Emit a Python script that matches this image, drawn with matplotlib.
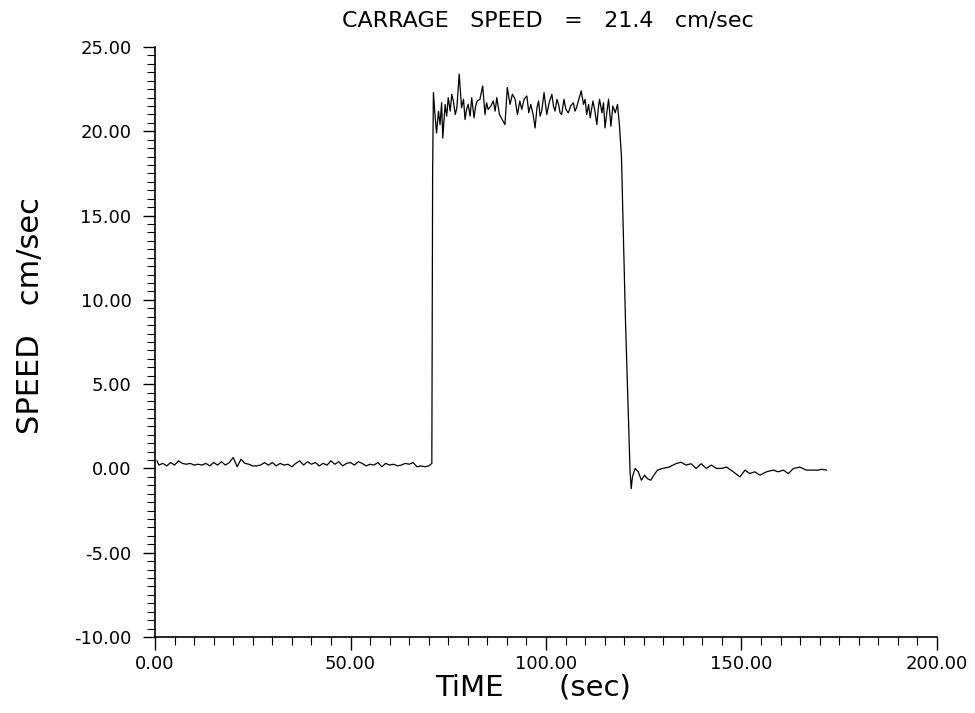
import numpy as np
import matplotlib.pyplot as plt
from matplotlib.ticker import MultipleLocator, FormatStrFormatter

# carriage speed record
t_rest = [0.5, 1, 2, 3, 4, 5, 6, 7, 8, 9, 10, 11, 12, 13, 14, 15, 16, 17, 18, 19,
          20, 21, 22, 23, 24, 25, 26, 27, 28, 29, 30, 31, 32, 33, 34, 35, 36, 37, 38, 39,
          40, 41, 42, 43, 44, 45, 46, 47, 48, 49, 50, 51, 52, 53, 54, 55, 56, 57, 58, 59,
          60, 61, 62, 63, 64, 65, 66, 67, 68, 69, 70, 70.8]
v_rest = [0.45, 0.2, 0.3, 0.15, 0.35, 0.2, 0.45, 0.3, 0.25, 0.3, 0.2, 0.25, 0.2, 0.3, 0.15, 0.35, 0.2, 0.4, 0.2, 0.35,
          0.65, 0.1, 0.55, 0.3, 0.25, 0.15, 0.15, 0.2, 0.35, 0.2, 0.35, 0.15, 0.3, 0.2, 0.25, 0.1, 0.3, 0.45, 0.2, 0.4,
          0.25, 0.35, 0.15, 0.3, 0.2, 0.45, 0.25, 0.4, 0.15, 0.3, 0.35, 0.2, 0.4, 0.3, 0.15, 0.25, 0.2, 0.35, 0.1, 0.3,
          0.2, 0.25, 0.15, 0.2, 0.3, 0.25, 0.35, 0.1, 0.15, 0.1, 0.15, 0.3]

t_run = [71.0, 71.2, 71.6, 72.0, 72.5, 72.9, 73.3, 73.6, 74.2, 74.6, 75.0, 75.5, 75.9, 76.3, 76.8, 77.2,
         77.8, 78.4, 78.9, 79.3, 79.7, 80.1, 80.6, 81.0, 81.6, 82.0, 82.4, 83.1, 83.8, 84.4, 84.8,
         85.2, 85.9, 86.5, 87.0, 87.4, 88.1, 88.8, 89.5, 90.1, 90.8, 91.4, 92.1, 92.7, 93.3, 93.8,
         94.4, 95.1, 95.6, 96.1, 96.7, 97.2, 97.7, 98.1, 98.5, 98.9, 99.5, 100.2, 100.8, 101.5,
         101.9, 102.3, 102.8, 103.2, 103.6, 104.0, 104.6, 105.1, 105.7, 106.3, 107.0, 107.4,
         107.8, 108.4, 109.0, 109.6, 110.0, 110.4, 110.9, 111.3, 112.0, 112.5, 113.0, 113.4,
         113.7, 114.3, 114.7, 115.1, 115.6, 116.0, 116.6, 117.1, 117.7, 118.3, 118.8]
v_run = [17.5, 22.3, 21.0, 19.9, 21.2, 20.4, 21.7, 19.6, 21.6, 20.9, 22.0, 21.2, 22.2, 21.8, 21.0, 21.4,
         23.4, 21.4, 21.9, 20.7, 21.3, 21.6, 20.9, 22.0, 20.8, 21.5, 21.8, 21.9, 22.7, 21.0, 21.7,
         21.3, 21.5, 21.8, 21.2, 22.0, 21.0, 20.7, 20.4, 22.6, 21.6, 22.2, 21.9, 21.0, 21.8, 21.3,
         21.9, 22.1, 21.1, 21.6, 21.0, 20.2, 21.4, 21.8, 20.9, 21.2, 22.3, 21.0, 21.7, 22.2,
         21.5, 21.2, 21.9, 21.6, 21.1, 21.0, 21.9, 21.3, 21.1, 21.5, 21.7, 21.2,
         21.4, 21.9, 22.4, 21.6, 21.9, 21.0, 21.6, 20.8, 21.8, 21.2, 20.4, 21.4,
         21.9, 21.1, 21.7, 20.2, 21.2, 21.9, 20.3, 21.5, 21.1, 21.6, 20.3]

t_stop = [119.3, 120.3, 121.5, 121.8, 122.1, 122.8, 123.6, 124.4, 125.2, 125.9, 126.8, 127.6, 128.5,
          129.8, 131.5, 133.2, 134.5, 135.8, 137.1, 138.4, 139.7, 141.0, 142.3, 143.6, 144.9,
          146.2, 147.9, 149.6, 150.9, 152.1, 153.4, 154.7, 156.4, 158.1, 159.4, 160.7, 162.0,
          163.3, 164.9, 166.6, 168.0, 169.6, 170.5, 171.7]
v_stop = [18.5, 9.0, -0.2, -1.2, -0.5, 0.0, -0.2, -0.7, -0.4, -0.6, -0.7, -0.4, -0.1,
          0.0, 0.08, 0.28, 0.37, 0.2, 0.28, 0.0, 0.28, 0.0, 0.2, 0.0, 0.0,
          0.08, -0.2, -0.5, -0.1, -0.3, -0.2, -0.4, -0.2, -0.1, -0.2, -0.1, -0.3,
          0.0, 0.08, -0.1, -0.1, -0.1, -0.05, -0.1]

time = t_rest + t_run + t_stop
speed = v_rest + v_run + v_stop

fig = plt.figure(figsize=(9.75, 7.13), dpi=100)
ax = fig.add_axes([0.159, 0.1066, 0.802, 0.8274])

ax.plot(time, speed, color='black', lw=0.9)

ax.set_xlim(0, 200)
ax.set_ylim(-10, 25)
ax.xaxis.set_major_locator(MultipleLocator(50))
ax.xaxis.set_minor_locator(MultipleLocator(5))
ax.yaxis.set_major_locator(MultipleLocator(5))
ax.yaxis.set_minor_locator(MultipleLocator(0.5))
ax.xaxis.set_major_formatter(FormatStrFormatter('%.2f'))
ax.yaxis.set_major_formatter(FormatStrFormatter('%.2f'))

for side in ['top', 'right']:
    ax.spines[side].set_visible(False)
for side in ['left', 'bottom']:
    ax.spines[side].set_linewidth(1.2)

ax.tick_params(which='major', direction='out', length=9, width=1.0, labelsize=13, pad=4)
ax.tick_params(axis='y', which='major', pad=8)
ax.tick_params(which='minor', direction='out', length=6, width=0.8)

fig.text(0.562, 0.971, 'CARRAGE   SPEED   =   21.4   cm/sec', ha='center', va='center', fontsize=16)
fig.text(0.547, 0.036, 'TiME      (sec)', ha='center', va='center', fontsize=21)
fig.text(0.031, 0.558, 'SPEED   cm/sec', ha='center', va='center', rotation=90, fontsize=22)

fig.savefig('out.png', dpi=100)
